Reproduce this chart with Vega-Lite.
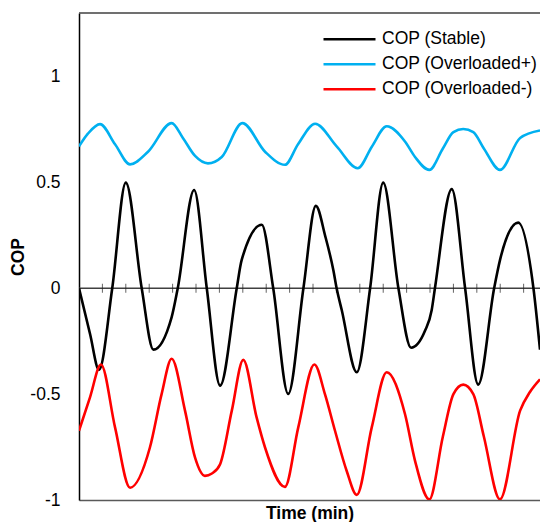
{
  "$schema": "https://vega.github.io/schema/vega-lite/v6.json",
  "width": 461,
  "height": 487,
  "padding": {"left": 9, "top": 12, "right": 0, "bottom": 0},
  "background": "white",
  "config": {
    "view": {"stroke": null},
    "font": "Liberation Sans",
    "axis": {"grid": false, "ticks": false, "labelFont": "Liberation Sans", "titleFont": "Liberation Sans"}
  },
  "datasets": {
    "one": [{"k": 1}],
    "series": [
      {"t": 0, "v": 0.67, "s": "COP (Overloaded+)"},
      {"t": 0.38, "v": 0.73, "s": "COP (Overloaded+)"},
      {"t": 0.9, "v": 0.775, "s": "COP (Overloaded+)"},
      {"t": 1.54, "v": 0.68, "s": "COP (Overloaded+)"},
      {"t": 2.18, "v": 0.585, "s": "COP (Overloaded+)"},
      {"t": 2.95, "v": 0.645, "s": "COP (Overloaded+)"},
      {"t": 3.96, "v": 0.78, "s": "COP (Overloaded+)"},
      {"t": 4.44, "v": 0.71, "s": "COP (Overloaded+)"},
      {"t": 4.96, "v": 0.625, "s": "COP (Overloaded+)"},
      {"t": 5.51, "v": 0.59, "s": "COP (Overloaded+)"},
      {"t": 6.1, "v": 0.62, "s": "COP (Overloaded+)"},
      {"t": 6.98, "v": 0.78, "s": "COP (Overloaded+)"},
      {"t": 7.95, "v": 0.645, "s": "COP (Overloaded+)"},
      {"t": 8.8, "v": 0.583, "s": "COP (Overloaded+)"},
      {"t": 9.36, "v": 0.68, "s": "COP (Overloaded+)"},
      {"t": 10.09, "v": 0.777, "s": "COP (Overloaded+)"},
      {"t": 11.01, "v": 0.67, "s": "COP (Overloaded+)"},
      {"t": 11.91, "v": 0.567, "s": "COP (Overloaded+)"},
      {"t": 12.52, "v": 0.67, "s": "COP (Overloaded+)"},
      {"t": 13.15, "v": 0.765, "s": "COP (Overloaded+)"},
      {"t": 13.93, "v": 0.693, "s": "COP (Overloaded+)"},
      {"t": 14.36, "v": 0.62, "s": "COP (Overloaded+)"},
      {"t": 14.97, "v": 0.559, "s": "COP (Overloaded+)"},
      {"t": 15.55, "v": 0.66, "s": "COP (Overloaded+)"},
      {"t": 16.0, "v": 0.737, "s": "COP (Overloaded+)"},
      {"t": 16.42, "v": 0.752, "s": "COP (Overloaded+)"},
      {"t": 16.85, "v": 0.737, "s": "COP (Overloaded+)"},
      {"t": 17.3, "v": 0.66, "s": "COP (Overloaded+)"},
      {"t": 17.99, "v": 0.559, "s": "COP (Overloaded+)"},
      {"t": 18.85, "v": 0.71, "s": "COP (Overloaded+)"},
      {"t": 19.7, "v": 0.745, "s": "COP (Overloaded+)"},

      {"t": 0, "v": 0, "s": "COP (Stable)"},
      {"t": 0.47, "v": -0.215, "s": "COP (Stable)"},
      {"t": 0.855, "v": -0.385, "s": "COP (Stable)"},
      {"t": 1.42, "v": 0, "s": "COP (Stable)"},
      {"t": 2.0, "v": 0.499, "s": "COP (Stable)"},
      {"t": 2.68, "v": 0, "s": "COP (Stable)"},
      {"t": 3.18, "v": -0.29, "s": "COP (Stable)"},
      {"t": 3.96, "v": -0.136, "s": "COP (Stable)"},
      {"t": 4.22, "v": 0, "s": "COP (Stable)"},
      {"t": 4.92, "v": 0.464, "s": "COP (Stable)"},
      {"t": 5.46, "v": 0, "s": "COP (Stable)"},
      {"t": 6.03, "v": -0.46, "s": "COP (Stable)"},
      {"t": 6.74, "v": 0, "s": "COP (Stable)"},
      {"t": 6.95, "v": 0.133, "s": "COP (Stable)"},
      {"t": 7.81, "v": 0.3, "s": "COP (Stable)"},
      {"t": 8.3, "v": 0, "s": "COP (Stable)"},
      {"t": 8.94, "v": -0.499, "s": "COP (Stable)"},
      {"t": 9.59, "v": 0, "s": "COP (Stable)"},
      {"t": 10.12, "v": 0.389, "s": "COP (Stable)"},
      {"t": 10.53, "v": 0.243, "s": "COP (Stable)"},
      {"t": 10.87, "v": 0.085, "s": "COP (Stable)"},
      {"t": 11.01, "v": 0, "s": "COP (Stable)"},
      {"t": 11.23, "v": -0.104, "s": "COP (Stable)"},
      {"t": 11.87, "v": -0.397, "s": "COP (Stable)"},
      {"t": 12.44, "v": 0, "s": "COP (Stable)"},
      {"t": 13.0, "v": 0.499, "s": "COP (Stable)"},
      {"t": 13.65, "v": 0, "s": "COP (Stable)"},
      {"t": 14.19, "v": -0.281, "s": "COP (Stable)"},
      {"t": 14.79, "v": -0.2, "s": "COP (Stable)"},
      {"t": 15.07, "v": -0.104, "s": "COP (Stable)"},
      {"t": 15.21, "v": 0, "s": "COP (Stable)"},
      {"t": 15.93, "v": 0.468, "s": "COP (Stable)"},
      {"t": 16.5, "v": 0, "s": "COP (Stable)"},
      {"t": 17.06, "v": -0.455, "s": "COP (Stable)"},
      {"t": 17.74, "v": 0, "s": "COP (Stable)"},
      {"t": 17.99, "v": 0.133, "s": "COP (Stable)"},
      {"t": 18.77, "v": 0.31, "s": "COP (Stable)"},
      {"t": 19.42, "v": 0, "s": "COP (Stable)"},
      {"t": 19.7, "v": -0.29, "s": "COP (Stable)"},

      {"t": 0, "v": -0.673, "s": "COP (Overloaded-)"},
      {"t": 0.47, "v": -0.515, "s": "COP (Overloaded-)"},
      {"t": 0.94, "v": -0.36, "s": "COP (Overloaded-)"},
      {"t": 1.54, "v": -0.657, "s": "COP (Overloaded-)"},
      {"t": 2.18, "v": -0.942, "s": "COP (Overloaded-)"},
      {"t": 3.03, "v": -0.752, "s": "COP (Overloaded-)"},
      {"t": 3.53, "v": -0.5, "s": "COP (Overloaded-)"},
      {"t": 3.96, "v": -0.333, "s": "COP (Overloaded-)"},
      {"t": 4.53, "v": -0.578, "s": "COP (Overloaded-)"},
      {"t": 4.96, "v": -0.8, "s": "COP (Overloaded-)"},
      {"t": 5.38, "v": -0.886, "s": "COP (Overloaded-)"},
      {"t": 5.68, "v": -0.875, "s": "COP (Overloaded-)"},
      {"t": 6.03, "v": -0.831, "s": "COP (Overloaded-)"},
      {"t": 6.53, "v": -0.578, "s": "COP (Overloaded-)"},
      {"t": 7.02, "v": -0.338, "s": "COP (Overloaded-)"},
      {"t": 7.59, "v": -0.61, "s": "COP (Overloaded-)"},
      {"t": 7.95, "v": -0.752, "s": "COP (Overloaded-)"},
      {"t": 8.8, "v": -0.938, "s": "COP (Overloaded-)"},
      {"t": 9.37, "v": -0.657, "s": "COP (Overloaded-)"},
      {"t": 10.06, "v": -0.36, "s": "COP (Overloaded-)"},
      {"t": 10.51, "v": -0.5, "s": "COP (Overloaded-)"},
      {"t": 10.94, "v": -0.673, "s": "COP (Overloaded-)"},
      {"t": 11.44, "v": -0.863, "s": "COP (Overloaded-)"},
      {"t": 11.87, "v": -0.976, "s": "COP (Overloaded-)"},
      {"t": 12.51, "v": -0.657, "s": "COP (Overloaded-)"},
      {"t": 13.15, "v": -0.397, "s": "COP (Overloaded-)"},
      {"t": 13.93, "v": -0.594, "s": "COP (Overloaded-)"},
      {"t": 14.36, "v": -0.815, "s": "COP (Overloaded-)"},
      {"t": 14.97, "v": -0.997, "s": "COP (Overloaded-)"},
      {"t": 15.55, "v": -0.7, "s": "COP (Overloaded-)"},
      {"t": 16.0, "v": -0.5, "s": "COP (Overloaded-)"},
      {"t": 16.42, "v": -0.455, "s": "COP (Overloaded-)"},
      {"t": 16.85, "v": -0.5, "s": "COP (Overloaded-)"},
      {"t": 17.3, "v": -0.7, "s": "COP (Overloaded-)"},
      {"t": 17.99, "v": -0.997, "s": "COP (Overloaded-)"},
      {"t": 18.85, "v": -0.578, "s": "COP (Overloaded-)"},
      {"t": 19.27, "v": -0.49, "s": "COP (Overloaded-)"},
      {"t": 19.7, "v": -0.43, "s": "COP (Overloaded-)"}
    ],
    "zeroTicks": [
      {"t": 1}, {"t": 2}, {"t": 3}, {"t": 4}, {"t": 5}, {"t": 6}, {"t": 7}, {"t": 8}, {"t": 9}, {"t": 10},
      {"t": 11}, {"t": 12}, {"t": 13}, {"t": 14}, {"t": 15}, {"t": 16}, {"t": 17}, {"t": 18}, {"t": 19}
    ]
  },
  "layer": [
    {
      "data": {"name": "one"},
      "mark": {"type": "rule", "color": "#404040", "strokeWidth": 1.5},
      "encoding": {"y": {"datum": 1.3, "type": "quantitative"}}
    },
    {
      "data": {"name": "one"},
      "mark": {"type": "rule", "color": "#404040", "strokeWidth": 1.5},
      "encoding": {"y": {"datum": 0, "type": "quantitative"}}
    },
    {
      "data": {"name": "zeroTicks"},
      "mark": {"type": "tick", "orient": "vertical", "color": "#222222", "size": 9, "thickness": 1},
      "encoding": {
        "x": {"field": "t", "type": "quantitative"},
        "y": {"datum": 0, "type": "quantitative"}
      }
    },
    {
      "data": {"name": "series"},
      "mark": {"type": "line", "interpolate": "monotone", "strokeWidth": 2.6, "clip": true},
      "encoding": {
        "x": {
          "field": "t", "type": "quantitative",
          "scale": {"domain": [0, 19.7], "nice": false, "zero": false},
          "axis": {"labels": false, "title": "Time (min)", "titleFontSize": 17.5, "titleFontWeight": "bold", "titleColor": "#000000", "domainColor": "#595959", "domainWidth": 1.5, "titlePadding": 4}
        },
        "y": {
          "field": "v", "type": "quantitative",
          "scale": {"domain": [-1, 1.3], "nice": false, "zero": false},
          "axis": {"values": [-1, -0.5, 0, 0.5, 1], "labelExpr": "toString(datum.value)", "labelFontSize": 17.5, "labelColor": "#000000", "labelPadding": 19, "title": "COP", "titleFontSize": 17.5, "titleFontWeight": "bold", "titleColor": "#000000", "titlePadding": 2, "domainColor": "#000000", "domainWidth": 1.5}
        },
        "color": {
          "field": "s", "type": "nominal",
          "scale": {"domain": ["COP (Stable)", "COP (Overloaded+)", "COP (Overloaded-)"], "range": ["#000000", "#00B0F0", "#FF0000"]},
          "legend": {
            "title": null, "orient": "none", "legendX": 243, "legendY": 14,
            "symbolType": "stroke", "symbolSize": 2704, "symbolStrokeWidth": 2.5, "clipHeight": 24.5,
            "labelFontSize": 17.5, "labelColor": "#000000", "labelOffset": 5, "rowPadding": 0, "padding": 0
          }
        }
      }
    }
  ]
}
